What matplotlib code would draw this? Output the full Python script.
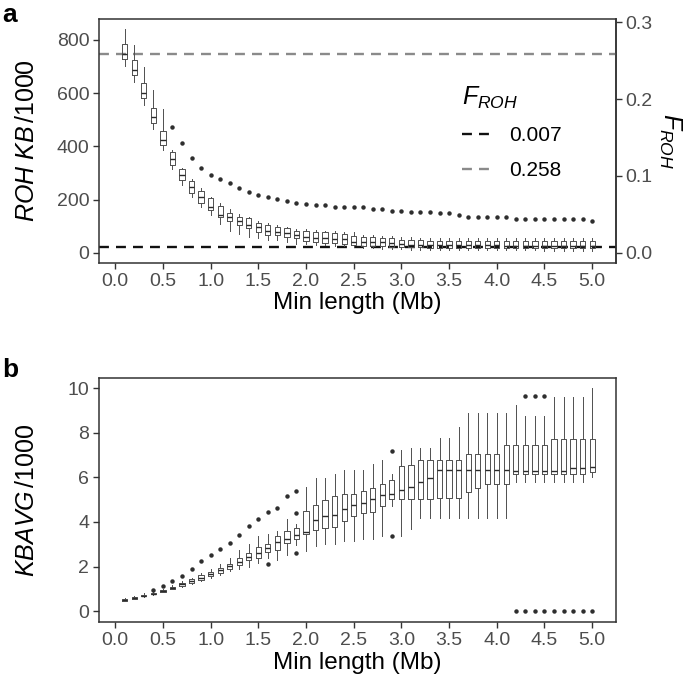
import matplotlib
matplotlib.use("Agg")
import matplotlib.pyplot as plt
from matplotlib.lines import Line2D
import numpy as np

plt.rcParams['font.family'] = ['Liberation Sans', 'DejaVu Sans']
plt.rcParams['mathtext.fontset'] = 'custom'
plt.rcParams['mathtext.it'] = 'Liberation Sans:italic'
plt.rcParams['mathtext.rm'] = 'Liberation Sans'
plt.rcParams['mathtext.bf'] = 'Liberation Sans:bold'

# ---------------- data ----------------
min_length = [round(0.1 * i, 1) for i in range(1, 51)]

# panel a: ROH KB/1000 box stats
roh_wlo = [701, 640, 554, 464, 386, 315, 255, 208, 172, 143,
           109, 83, 70, 61, 55, 49, 49, 42, 34, 34,
           30, 28, 26, 24, 22, 20, 18, 16, 14, 13,
           12, 12, 11, 11, 10, 10, 10, 10, 10, 9,
           9, 9, 9, 9, 8, 8, 8, 8, 8, 8]
roh_q1 = [726, 667, 580, 489, 404, 330, 274, 226, 189, 161,
          134, 118, 105, 93, 80, 68, 68, 59, 55, 46,
          39, 36, 36, 33, 30, 26, 26, 24, 21, 21,
          21, 21, 20, 20, 20, 20, 19, 19, 19, 19,
          19, 19, 19, 18, 18, 18, 18, 18, 18, 18]
roh_med = [746, 686, 599, 511, 424, 352, 293, 247, 211, 174,
           143, 134, 118, 105, 99, 83, 80, 74, 68, 61,
           55, 55, 51, 51, 42, 42, 42, 39, 36, 34,
           30, 30, 30, 29, 29, 28, 28, 28, 28, 28,
           27, 27, 27, 27, 27, 26, 26, 26, 26, 26]
roh_q3 = [786, 724, 636, 545, 459, 377, 314, 270, 234, 205,
          176, 151, 136, 130, 114, 105, 99, 93, 83, 83,
          80, 80, 76, 70, 64, 59, 59, 55, 55, 49,
          47, 47, 46, 46, 46, 46, 46, 46, 46, 46,
          46, 46, 46, 45, 45, 45, 45, 45, 45, 45]
roh_whi = [839, 780, 699, 611, 540, 385, 320, 278, 243, 211,
           187, 164, 145, 136, 120, 111, 105, 99, 90, 88,
           86, 84, 82, 78, 80, 68, 66, 62, 62, 59,
           58, 57, 57, 56, 56, 55, 55, 55, 55, 55,
           55, 55, 55, 55, 55, 55, 55, 55, 55, 55]
roh_out = [[], [], [], [], [], [473], [411], [357], [320], [294],
           [278], [262], [244], [230], [218], [209], [204], [193], [189], [185],
           [178], [178], [173], [171], [171], [171], [166], [164], [158], [158],
           [155], [155], [155], [149], [149], [143], [133], [133], [133], [133],
           [133], [127], [127], [127], [127], [127], [127], [127], [127], [121]]

froh_values = [0.007, 0.258]
froh_labels = ['0.007', '0.258']
genome_kb_1000 = 2887.0   # ROH KB/1000 corresponding to F_ROH = 1

# panel b: KBAVG/1000 box stats
kb_wlo = [0.45, 0.55, 0.64, 0.73, 0.85, 0.97, 1.09, 1.22, 1.33, 1.47,
          1.60, 1.80, 1.90, 2.00, 2.15, 2.40, 2.30, 2.50, 2.95, 2.68,
          2.92, 3.03, 3.03, 3.13, 3.13, 3.25, 3.25, 3.37, 4.72, 3.37,
          3.67, 4.18, 4.18, 4.18, 4.18, 4.18, 4.18, 4.18, 4.18, 4.18,
          4.18, 5.80, 5.80, 5.80, 5.80, 5.80, 5.80, 5.80, 5.80, 6.02]
kb_q1 = [0.47, 0.56, 0.66, 0.75, 0.87, 1.00, 1.14, 1.28, 1.40, 1.56,
         1.71, 1.91, 2.05, 2.28, 2.40, 2.65, 2.73, 3.05, 3.25, 3.48,
         3.66, 3.73, 3.78, 4.05, 4.26, 4.42, 4.45, 4.72, 5.05, 5.02,
         5.02, 5.02, 5.02, 5.08, 5.08, 5.08, 5.33, 5.54, 5.72, 5.72,
         5.72, 6.17, 6.17, 6.17, 6.17, 6.17, 6.17, 6.17, 6.17, 6.24]
kb_med = [0.50, 0.58, 0.68, 0.78, 0.90, 1.04, 1.20, 1.35, 1.50, 1.67,
          1.83, 2.03, 2.20, 2.43, 2.61, 2.85, 3.10, 3.22, 3.40, 3.55,
          4.08, 4.26, 4.30, 4.56, 4.75, 4.86, 5.05, 5.20, 5.25, 5.42,
          5.57, 5.80, 5.99, 6.32, 6.32, 6.32, 6.32, 6.32, 6.32, 6.32,
          6.32, 6.29, 6.29, 6.29, 6.29, 6.29, 6.29, 6.44, 6.44, 6.47]
kb_q3 = [0.52, 0.61, 0.71, 0.80, 0.93, 1.09, 1.27, 1.42, 1.60, 1.75,
         1.95, 2.13, 2.38, 2.61, 2.88, 3.03, 3.37, 3.60, 3.73, 4.48,
         4.75, 4.97, 5.17, 5.27, 5.27, 5.39, 5.54, 5.69, 5.87, 6.51,
         6.54, 6.80, 6.80, 6.80, 6.80, 6.80, 7.07, 7.07, 7.07, 7.07,
         7.45, 7.45, 7.45, 7.45, 7.45, 7.71, 7.71, 7.71, 7.71, 7.71]
kb_whi = [0.58, 0.68, 0.82, 0.86, 0.98, 1.15, 1.33, 1.50, 1.70, 1.90,
          2.10, 2.40, 2.75, 3.00, 3.36, 3.45, 3.60, 4.15, 3.93, 5.58,
          5.95, 5.95, 6.17, 6.35, 6.35, 6.35, 6.62, 6.80, 6.13, 7.22,
          7.34, 7.34, 7.34, 7.77, 7.77, 8.27, 8.90, 8.90, 8.90, 8.90,
          8.90, 9.24, 8.75, 8.75, 8.75, 9.62, 9.62, 9.62, 9.62, 9.99]
kb_out = [[], [], [], [0.96], [1.11], [1.33], [1.56], [1.90], [2.23], [2.53],
          [2.80], [3.07], [3.43], [3.82], [4.12], [4.45, 2.12], [4.64], [5.18], [5.38, 4.42, 2.62], [],
          [], [], [], [], [], [], [], [], [7.18, 3.37], [],
          [], [], [], [], [], [], [], [], [], [],
          [], [0.0], [9.65, 0.0], [9.65, 0.0], [9.65, 0.0], [0.0], [0.0], [0.0], [0.0], [0.0]]

x_ticks = [0.0, 0.5, 1.0, 1.5, 2.0, 2.5, 3.0, 3.5, 4.0, 4.5, 5.0]

# ---------------- styling ----------------
box_col = '#4f4f4f'
med_col = '#2a2a2a'
tick_col = '#4d4d4d'
spine_col = '#333333'


def make_stats(wlo, q1, med, q3, whi, outs):
    return [dict(whislo=a, q1=b, med=c, q3=d, whishi=e, fliers=f)
            for a, b, c, d, e, f in zip(wlo, q1, med, q3, whi, outs)]


def style_axes(ax):
    for s in ax.spines.values():
        s.set_color(spine_col)
        s.set_linewidth(1.1)
    ax.tick_params(axis='both', colors=spine_col, labelcolor=tick_col,
                   labelsize=14, length=4, width=1.0, pad=3)


def draw_boxes(ax, stats):
    ax.bxp(stats, positions=min_length, widths=0.055, showcaps=False,
           boxprops=dict(color=box_col, linewidth=0.7),
           whiskerprops=dict(color=box_col, linewidth=0.7),
           medianprops=dict(color=med_col, linewidth=1.0),
           flierprops=dict(marker='o', markersize=2.2, markerfacecolor='#2e2e2e',
                           markeredgecolor='#2e2e2e', linestyle='none'),
           manage_ticks=False, zorder=3)


fig = plt.figure(figsize=(6.85, 6.83), dpi=100)
W, H = 685.0, 683.0
ax_a = fig.add_axes([99 / W, 1 - 263 / H, 517 / W, 244 / H])
ax_b = fig.add_axes([99 / W, 1 - 622 / H, 517 / W, 244 / H])

# ---- panel a ----
draw_boxes(ax_a, make_stats(roh_wlo, roh_q1, roh_med, roh_q3, roh_whi, roh_out))
line_cols = ['#111111', '#8a8a8a']
handles = []
for f, lab, c in zip(froh_values, froh_labels, line_cols):
    ax_a.axhline(f * genome_kb_1000, color=c, linewidth=1.7,
                 linestyle=(0, (4.2, 3.0)), zorder=2)
    handles.append(Line2D([0], [0], color=c, linewidth=1.7,
                          linestyle=(0, (4.2, 3.0)), label=lab))
ax_a.set_xlim(-0.17, 5.25)
ax_a.set_ylim(-38, 878)
ax_a.set_yticks([0, 200, 400, 600, 800])
ax_a.set_xticks(x_ticks)
ax_a.set_xticklabels([f'{t:.1f}' for t in x_ticks])
style_axes(ax_a)
ax_a.set_xlabel('Min length (Mb)', fontsize=17.5, labelpad=2)
ax_a.set_ylabel(r'$ROH\ KB\,\mathrm{/1000}$', fontsize=18)
ax_a.yaxis.set_label_coords(-0.117, 0.5)

sec = ax_a.secondary_yaxis('right', functions=(lambda y: y / genome_kb_1000,
                                               lambda f: f * genome_kb_1000))
sec.set_yticks([0.0, 0.1, 0.2, 0.3])
sec.set_yticklabels(['0.0', '0.1', '0.2', '0.3'])
sec.spines['right'].set_color(spine_col)
sec.spines['right'].set_linewidth(1.1)
sec.tick_params(axis='y', colors=spine_col, labelcolor=tick_col,
                labelsize=14, length=4, width=1.0, pad=3)
sec.set_ylabel(r'$F_{ROH}$', fontsize=18, rotation=270, labelpad=22)

leg = ax_a.legend(handles=handles, title=r'$F_{ROH}$', frameon=False,
                  loc='upper left', bbox_to_anchor=(447 / W, 1 - 70 / H),
                  bbox_transform=fig.transFigure, fontsize=15,
                  title_fontsize=18, handlelength=1.45, handletextpad=0.85,
                  labelspacing=0.75, alignment='left', borderpad=0.2)

# ---- panel b ----
draw_boxes(ax_b, make_stats(kb_wlo, kb_q1, kb_med, kb_q3, kb_whi, kb_out))
ax_b.set_xlim(-0.17, 5.25)
ax_b.set_ylim(-0.49, 10.46)
ax_b.set_yticks([0, 2, 4, 6, 8, 10])
ax_b.set_xticks(x_ticks)
ax_b.set_xticklabels([f'{t:.1f}' for t in x_ticks])
style_axes(ax_b)
ax_b.set_xlabel('Min length (Mb)', fontsize=17.5, labelpad=2)
ax_b.set_ylabel(r'$KBAVG\,\mathrm{/1000}$', fontsize=18)
ax_b.yaxis.set_label_coords(-0.117, 0.5)

fig.text(2 / W, 1 - 3 / H, 'a', fontsize=19, fontweight='bold', va='top', ha='left')
fig.text(2 / W, 1 - 358 / H, 'b', fontsize=19, fontweight='bold', va='top', ha='left')

fig.savefig('out.png', dpi=100)
